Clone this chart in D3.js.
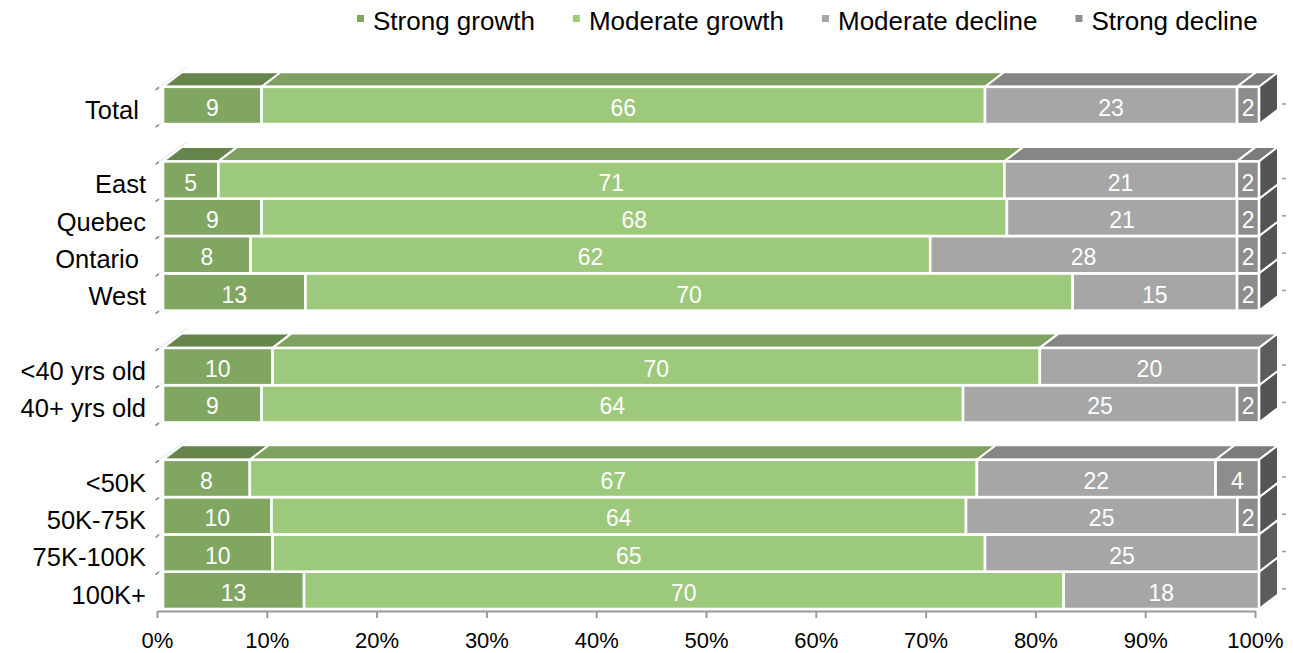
<!DOCTYPE html>
<html>
<head>
<meta charset="utf-8">
<script src="https://cdn.jsdelivr.net/npm/d3@7"></script>
<style>
  html, body { margin: 0; padding: 0; background: #fff; }
  svg { display: block; font-family: "Liberation Sans", Arial, sans-serif; }
</style>
</head>
<body>
<svg id="chart" width="1293" height="653"></svg>
<script>
// ---------- data ----------
const categories = ["Total ", "", "East", "Quebec", "Ontario ", "West", "", "<40 yrs old", "40+ yrs old", "", "<50K", "50K-75K", "75K-100K", "100K+"];
const seriesNames = ["Strong growth", "Moderate growth", "Moderate decline", "Strong decline"];
const strongGrowth    = [9,  null, 5,  9,  8,  13, null, 10, 9,  null, 8,  10, 10, 13];
const moderateGrowth  = [66, null, 71, 68, 62, 70, null, 70, 64, null, 67, 64, 65, 70];
const moderateDecline = [23, null, 21, 21, 28, 15, null, 20, 25, null, 22, 25, 25, 18];
const strongDecline   = [2,  null, 2,  2,  2,  2,  null, 0,  2,  null, 4,  2,  0,  0];
const xTickValues = [0, 10, 20, 30, 40, 50, 60, 70, 80, 90, 100];
const xTickLabels = ["0%", "10%", "20%", "30%", "40%", "50%", "60%", "70%", "80%", "90%", "100%"];

// ---------- styles ----------
const frontColors = ["#80a662", "#9dc97c", "#a6a6a6", "#8d8d8d"];
const topColors   = ["#66854c", "#7ea060", "#868686", "#7b7b7b"];
const sideColors  = ["#4e6a3a", "#6a8a50", "#5c5c5c", "#545454"];
const DX = 19, DY = 14.5;

const svg = d3.select("#chart");

// ---------- build rows ----------
const seriesValues = [strongGrowth, moderateGrowth, moderateDecline, strongDecline];
const rows = categories.map((c, i) => {
  const r = { idx: i, label: c, blank: strongGrowth[i] === null };
  seriesNames.forEach((s, j) => r[s] = seriesValues[j][i] || 0);
  return r;
});
const dataRows = rows.filter(r => !r.blank);
const stack = d3.stack().keys(seriesNames).offset(d3.stackOffsetExpand);
const stacked = stack(dataRows);

const segByRow = {};
stacked.forEach((layer, j) => {
  layer.forEach(d => {
    const idx = d.data.idx;
    (segByRow[idx] = segByRow[idx] || []).push({ j, x0: d[0], x1: d[1], value: d.data[seriesNames[j]] });
  });
});

// ---------- scales ----------
const y = d3.scaleBand().domain(d3.range(categories.length)).range([86.8, 609]).padding(0);
const xBar = d3.scaleLinear().domain([0, 1]).range([163, 1259]);
const xAx = d3.scaleLinear().domain([0, 100]).range([157, 1255]);

const firstInGroup = new Set(rows.filter(r => !r.blank && (r.idx === 0 || rows[r.idx - 1].blank)).map(r => r.idx));

// ---------- left wall guide lines & ticks ----------
const gGuide = svg.append("g");
const boundaries = d3.range(categories.length).map(i => y(i));
boundaries.forEach(b => {
  gGuide.append("line").attr("x1", 157).attr("y1", b + 1.5).attr("x2", 187).attr("y2", b + 1.5 - 21)
    .attr("stroke", "#e2e2e2").attr("stroke-width", 1);
  gGuide.append("line").attr("x1", 155.5).attr("y1", b + 3).attr("x2", 159).attr("y2", b + 0.5)
    .attr("stroke", "#8a8a8a").attr("stroke-width", 1.6);
});
dataRows.forEach(r => {
  const cy = y(r.idx) + y.bandwidth() / 2 - 1.5;
  gGuide.append("line").attr("x1", 1282).attr("x2", 1286).attr("y1", cy).attr("y2", cy)
    .attr("stroke", "#9a9a9a").attr("stroke-width", 1.5);
});

// ---------- bars (bottom row first) ----------
const gBars = svg.append("g");
const order = dataRows.map(r => r.idx).sort((a, b) => b - a);
order.forEach(idx => {
  const segs = segByRow[idx].filter(s => s.value > 0);
  const yT = y(idx), yB = y(idx) + y.bandwidth();
  const g = gBars.append("g");
  if (firstInGroup.has(idx)) {
    segs.forEach(s => {
      const a = xBar(s.x0), b = xBar(s.x1);
      g.append("path")
        .attr("d", `M${a},${yT}L${b},${yT}L${b + DX},${yT - DY}L${a + DX},${yT - DY}Z`)
        .attr("fill", topColors[s.j]).attr("stroke", "#fff").attr("stroke-width", 2).attr("stroke-linejoin", "round");
    });
  }
  const last = segs[segs.length - 1];
  const xe = xBar(last.x1);
  g.append("path")
    .attr("d", `M${xe},${yT}L${xe + DX},${yT - DY}L${xe + DX},${yB - DY}L${xe},${yB}Z`)
    .attr("fill", sideColors[last.j]).attr("stroke", "#fff").attr("stroke-width", 2).attr("stroke-linejoin", "round");
  segs.forEach(s => {
    g.append("rect")
      .attr("x", xBar(s.x0)).attr("y", yT)
      .attr("width", xBar(s.x1) - xBar(s.x0)).attr("height", y.bandwidth())
      .attr("fill", frontColors[s.j]).attr("stroke", "#fff").attr("stroke-width", 2.6);
  });
  segs.forEach(s => {
    g.append("text")
      .attr("x", (xBar(s.x0) + xBar(s.x1)) / 2)
      .attr("y", yT + y.bandwidth() / 2 + 2.5)
      .attr("dy", "0.35em")
      .attr("text-anchor", "middle")
      .attr("fill", "#fff").attr("font-size", "23px")
      .text(s.value);
  });
});

// ---------- category labels ----------
svg.append("g").selectAll("text").data(dataRows).join("text")
  .attr("x", 146)
  .attr("y", d => y(d.idx) + y.bandwidth() / 2 + 4.5)
  .attr("dy", "0.35em")
  .attr("text-anchor", "end")
  .attr("font-size", "25.5px")
  .attr("fill", "#000")
  .style("white-space", "pre")
  .text(d => d.label);

// ---------- x axis ----------
const xAxis = d3.axisBottom(xAx).tickValues(xTickValues)
  .tickFormat((d, i) => xTickLabels[i]).tickSize(7).tickSizeOuter(0).tickPadding(14);
const gx = svg.append("g").attr("transform", "translate(0,611)").call(xAxis);
gx.select(".domain").attr("stroke", "#9a9a9a").attr("stroke-width", 2.2);
gx.selectAll(".tick line").attr("stroke", "#9a9a9a").attr("stroke-width", 2);
gx.selectAll(".tick text").attr("fill", "#000").attr("font-size", "22px")
  .attr("font-family", "'Liberation Sans', Arial, sans-serif");

// ---------- legend ----------
const gLeg = svg.append("g");
let lx = 357;
seriesNames.forEach((s, j) => {
  gLeg.append("rect").attr("x", lx).attr("y", 15).attr("width", 7).attr("height", 7).attr("fill", frontColors[j]);
  const t = gLeg.append("text").attr("x", lx + 16).attr("y", 21).attr("dy", "0.35em")
    .attr("font-size", "26px").attr("fill", "#000").text(s);
  lx += 16 + t.node().getComputedTextLength() + 38;
});
</script>
</body>
</html>
